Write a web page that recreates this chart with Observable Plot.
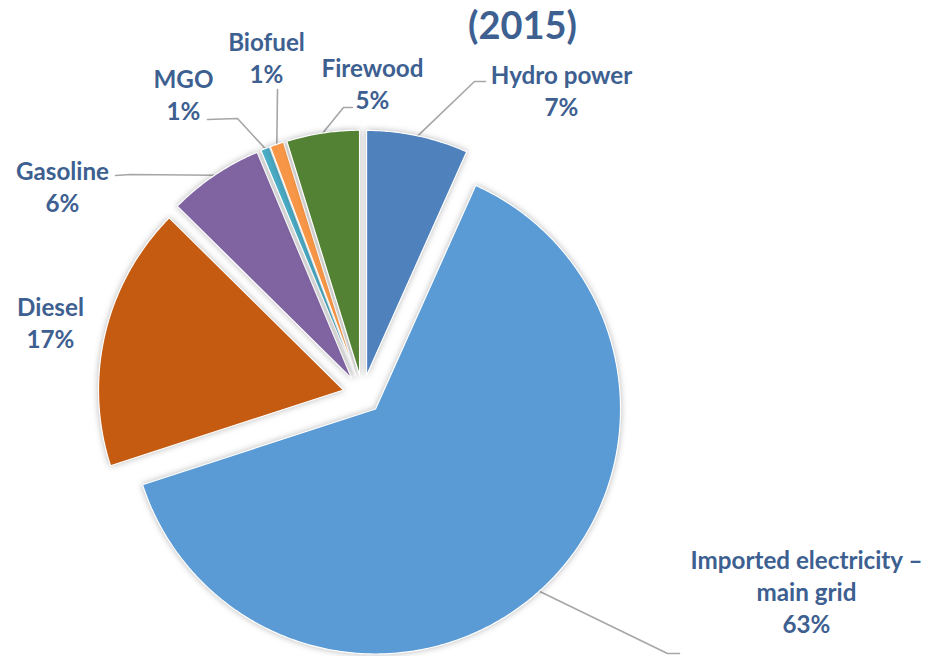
<!DOCTYPE html>
<html>
<head>
<meta charset="utf-8">
<script src="https://cdn.jsdelivr.net/npm/d3@7"></script>
<script src="https://cdn.jsdelivr.net/npm/@observablehq/plot@0.6"></script>
<style>
  html, body { margin: 0; padding: 0; background: #fff; }
  #chart svg g[aria-label="line"].slices path { filter: drop-shadow(0px 0px 3px rgba(0,0,0,0.28)); }
</style>
</head>
<body>
<div id="chart"></div>
<script>
// ---- data ----
const title = "(2015)";
const categories = ["Hydro power", "Imported electricity – main grid", "Diesel", "Gasoline", "MGO", "Biofuel", "Firewood"];
const labelNames = ["Hydro power", "Imported electricity –\nmain grid", "Diesel", "Gasoline", "MGO", "Biofuel", "Firewood"];
const shares = [6.7, 63.3, 17.4, 6.3, 0.6, 0.9, 4.8];
const pctLabels = ["7%", "63%", "17%", "6%", "1%", "1%", "5%"];
const colors = ["#4F81BD", "#5B9BD5", "#C55A11", "#8064A2", "#4BACC6", "#F79646", "#548235"];

// ---- layout (pixels) ----
const W = 935, H = 656;
const pieLayout = {cx: 362, cy: 394, r: 245, explode: 19.5};
const labelPos = [[561, 89], [806, 590], [50, 321], [62, 185], [183, 93], [266, 56], [372, 82]];
const leaderElbows = [
  [[474, 81], [485, 81]],
  [[667, 653], [679, 653]],
  null,
  [[130, 174], [115, 175]],
  [[237, 118], [207, 119]],
  [[277, 89]],
  [[343, 107], [352, 107]]
];
const textColor = "#3D6091";
const font = "Lato, 'Open Sans', sans-serif";

// ---- geometry from data ----
const arcs = d3.pie().sort(null).value(d => d)(shares);
const slicePts = [];
const leaderPts = [];
arcs.forEach((a, i) => {
  const mid = (a.startAngle + a.endAngle) / 2;
  const ax = pieLayout.cx + pieLayout.explode * Math.sin(mid);
  const ay = pieLayout.cy - pieLayout.explode * Math.cos(mid);
  const cat = categories[i];
  slicePts.push({cat, x: ax, y: ay});
  const n = Math.max(2, Math.ceil((a.endAngle - a.startAngle) / (Math.PI / 360)));
  for (let k = 0; k <= n; k++) {
    const t = a.startAngle + (a.endAngle - a.startAngle) * k / n;
    slicePts.push({cat, x: ax + pieLayout.r * Math.sin(t), y: ay - pieLayout.r * Math.cos(t)});
  }
  if (leaderElbows[i]) {
    leaderPts.push({cat, x: ax + pieLayout.r * Math.sin(mid), y: ay - pieLayout.r * Math.cos(mid)});
    leaderElbows[i].forEach(p => leaderPts.push({cat, x: p[0], y: p[1]}));
  }
});
const labels = categories.map((c, i) => ({cat: c, text: labelNames[i] + "\n" + pctLabels[i], x: labelPos[i][0], y: labelPos[i][1]}));

const chart = Plot.plot({
  width: W, height: H,
  margin: 0,
  style: {background: "#fff"},
  x: {domain: [0, W], range: [0, W], axis: null},
  y: {domain: [0, H], range: [0, H], axis: null},
  color: {domain: categories, range: colors},
  marks: [
    Plot.line(leaderPts, {x: "x", y: "y", z: "cat", stroke: "#A6A6A6", strokeWidth: 1.6}),
    Plot.line(slicePts, {x: "x", y: "y", z: "cat", fill: "cat", stroke: "white", strokeWidth: 1.2, curve: "linear-closed", className: "slices"}),
    Plot.text(labels, {x: "x", y: "y", text: "text", fill: textColor, fontSize: 24.2, fontWeight: "bold", fontFamily: font, lineHeight: 1.32, textAnchor: "middle"}),
    Plot.text([title], {x: () => 522, y: () => 26, text: d => d, fill: textColor, fontSize: 38, fontWeight: "bold", fontFamily: font, textAnchor: "middle"})
  ]
});
document.getElementById("chart").appendChild(chart);
</script>
</body>
</html>
